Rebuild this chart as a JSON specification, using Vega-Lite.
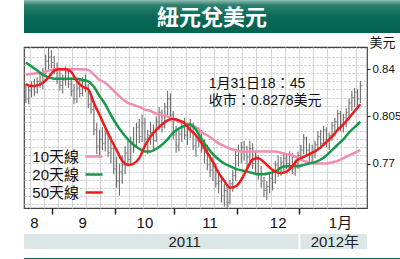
{
  "$schema": "https://vega.github.io/schema/vega-lite/v6.json",
  "padding": 0,
  "background": "white",
  "spacing": 2,
  "columns": 1,
  "align": "none",
  "config": {"font": "Liberation Sans Narrow, Liberation Sans, Noto Sans CJK TC", "view": {"stroke": null}},
  "datasets": {
    "bars": [
      {"date":"2011-08-18","high":0.829,"low":0.815,"close":0.818},
      {"date":"2011-08-19","high":0.827,"low":0.814,"close":0.824},
      {"date":"2011-08-22","high":0.831,"low":0.819,"close":0.827},
      {"date":"2011-08-23","high":0.833,"low":0.820,"close":0.823},
      {"date":"2011-08-24","high":0.834,"low":0.822,"close":0.831},
      {"date":"2011-08-25","high":0.838,"low":0.826,"close":0.829},
      {"date":"2011-08-26","high":0.841,"low":0.825,"close":0.838},
      {"date":"2011-08-29","high":0.851,"low":0.836,"close":0.846},
      {"date":"2011-08-30","high":0.856,"low":0.840,"close":0.849},
      {"date":"2011-08-31","high":0.854,"low":0.841,"close":0.845},
      {"date":"2011-09-01","high":0.850,"low":0.836,"close":0.839},
      {"date":"2011-09-02","high":0.845,"low":0.829,"close":0.833},
      {"date":"2011-09-05","high":0.839,"low":0.824,"close":0.828},
      {"date":"2011-09-06","high":0.836,"low":0.822,"close":0.832},
      {"date":"2011-09-07","high":0.842,"low":0.828,"close":0.838},
      {"date":"2011-09-08","high":0.840,"low":0.826,"close":0.829},
      {"date":"2011-09-09","high":0.834,"low":0.820,"close":0.824},
      {"date":"2011-09-12","high":0.829,"low":0.814,"close":0.818},
      {"date":"2011-09-13","high":0.830,"low":0.815,"close":0.826},
      {"date":"2011-09-14","high":0.833,"low":0.819,"close":0.822},
      {"date":"2011-09-15","high":0.834,"low":0.820,"close":0.831},
      {"date":"2011-09-16","high":0.836,"low":0.823,"close":0.827},
      {"date":"2011-09-19","high":0.829,"low":0.811,"close":0.814},
      {"date":"2011-09-20","high":0.822,"low":0.807,"close":0.810},
      {"date":"2011-09-21","high":0.815,"low":0.791,"close":0.795},
      {"date":"2011-09-22","high":0.800,"low":0.777,"close":0.783},
      {"date":"2011-09-23","high":0.795,"low":0.776,"close":0.788},
      {"date":"2011-09-26","high":0.797,"low":0.780,"close":0.785},
      {"date":"2011-09-27","high":0.796,"low":0.779,"close":0.792},
      {"date":"2011-09-28","high":0.794,"low":0.775,"close":0.778},
      {"date":"2011-09-29","high":0.790,"low":0.770,"close":0.781},
      {"date":"2011-09-30","high":0.786,"low":0.762,"close":0.766},
      {"date":"2011-10-03","high":0.775,"low":0.752,"close":0.757},
      {"date":"2011-10-04","high":0.770,"low":0.746,"close":0.764},
      {"date":"2011-10-05","high":0.776,"low":0.755,"close":0.769},
      {"date":"2011-10-06","high":0.783,"low":0.762,"close":0.778},
      {"date":"2011-10-07","high":0.787,"low":0.768,"close":0.773},
      {"date":"2011-10-10","high":0.790,"low":0.770,"close":0.786},
      {"date":"2011-10-11","high":0.797,"low":0.778,"close":0.783},
      {"date":"2011-10-12","high":0.800,"low":0.782,"close":0.797},
      {"date":"2011-10-13","high":0.803,"low":0.785,"close":0.790},
      {"date":"2011-10-14","high":0.806,"low":0.786,"close":0.800},
      {"date":"2011-10-17","high":0.804,"low":0.783,"close":0.788},
      {"date":"2011-10-18","high":0.795,"low":0.777,"close":0.791},
      {"date":"2011-10-19","high":0.801,"low":0.784,"close":0.793},
      {"date":"2011-10-20","high":0.799,"low":0.780,"close":0.787},
      {"date":"2011-10-21","high":0.805,"low":0.786,"close":0.801},
      {"date":"2011-10-24","high":0.812,"low":0.795,"close":0.808},
      {"date":"2011-10-25","high":0.810,"low":0.793,"close":0.797},
      {"date":"2011-10-26","high":0.815,"low":0.796,"close":0.812},
      {"date":"2011-10-27","high":0.824,"low":0.806,"close":0.818},
      {"date":"2011-10-28","high":0.822,"low":0.803,"close":0.806},
      {"date":"2011-10-31","high":0.809,"low":0.788,"close":0.791},
      {"date":"2011-11-01","high":0.798,"low":0.778,"close":0.783},
      {"date":"2011-11-02","high":0.795,"low":0.779,"close":0.792},
      {"date":"2011-11-03","high":0.802,"low":0.786,"close":0.798},
      {"date":"2011-11-04","high":0.804,"low":0.788,"close":0.791},
      {"date":"2011-11-07","high":0.800,"low":0.784,"close":0.795},
      {"date":"2011-11-08","high":0.803,"low":0.789,"close":0.797},
      {"date":"2011-11-09","high":0.800,"low":0.780,"close":0.783},
      {"date":"2011-11-10","high":0.792,"low":0.775,"close":0.787},
      {"date":"2011-11-11","high":0.797,"low":0.782,"close":0.794},
      {"date":"2011-11-14","high":0.795,"low":0.778,"close":0.781},
      {"date":"2011-11-15","high":0.788,"low":0.770,"close":0.778},
      {"date":"2011-11-16","high":0.784,"low":0.765,"close":0.769},
      {"date":"2011-11-17","high":0.776,"low":0.760,"close":0.765},
      {"date":"2011-11-18","high":0.775,"low":0.757,"close":0.768},
      {"date":"2011-11-21","high":0.770,"low":0.752,"close":0.755},
      {"date":"2011-11-22","high":0.765,"low":0.748,"close":0.757},
      {"date":"2011-11-23","high":0.760,"low":0.741,"close":0.746},
      {"date":"2011-11-24","high":0.755,"low":0.738,"close":0.750},
      {"date":"2011-11-25","high":0.754,"low":0.737,"close":0.741},
      {"date":"2011-11-28","high":0.758,"low":0.740,"close":0.755},
      {"date":"2011-11-29","high":0.765,"low":0.749,"close":0.761},
      {"date":"2011-11-30","high":0.780,"low":0.757,"close":0.776},
      {"date":"2011-12-01","high":0.784,"low":0.768,"close":0.779},
      {"date":"2011-12-02","high":0.786,"low":0.770,"close":0.782},
      {"date":"2011-12-05","high":0.787,"low":0.772,"close":0.779},
      {"date":"2011-12-06","high":0.783,"low":0.767,"close":0.775},
      {"date":"2011-12-07","high":0.787,"low":0.770,"close":0.781},
      {"date":"2011-12-08","high":0.785,"low":0.766,"close":0.770},
      {"date":"2011-12-09","high":0.779,"low":0.763,"close":0.775},
      {"date":"2011-12-12","high":0.776,"low":0.758,"close":0.762},
      {"date":"2011-12-13","high":0.768,"low":0.752,"close":0.757},
      {"date":"2011-12-14","high":0.760,"low":0.745,"close":0.750},
      {"date":"2011-12-15","high":0.757,"low":0.743,"close":0.753},
      {"date":"2011-12-16","high":0.763,"low":0.748,"close":0.759},
      {"date":"2011-12-19","high":0.765,"low":0.750,"close":0.756},
      {"date":"2011-12-20","high":0.772,"low":0.755,"close":0.769},
      {"date":"2011-12-21","high":0.776,"low":0.760,"close":0.767},
      {"date":"2011-12-22","high":0.775,"low":0.761,"close":0.771},
      {"date":"2011-12-23","high":0.778,"low":0.764,"close":0.774},
      {"date":"2011-12-26","high":0.777,"low":0.766,"close":0.770},
      {"date":"2011-12-27","high":0.779,"low":0.765,"close":0.776},
      {"date":"2011-12-28","high":0.778,"low":0.762,"close":0.766},
      {"date":"2011-12-29","high":0.773,"low":0.761,"close":0.769},
      {"date":"2011-12-30","high":0.779,"low":0.766,"close":0.776},
      {"date":"2012-01-02","high":0.784,"low":0.772,"close":0.780},
      {"date":"2012-01-03","high":0.792,"low":0.777,"close":0.789},
      {"date":"2012-01-04","high":0.790,"low":0.775,"close":0.780},
      {"date":"2012-01-05","high":0.785,"low":0.772,"close":0.776},
      {"date":"2012-01-06","high":0.784,"low":0.771,"close":0.778},
      {"date":"2012-01-09","high":0.787,"low":0.774,"close":0.784},
      {"date":"2012-01-10","high":0.794,"low":0.780,"close":0.790},
      {"date":"2012-01-11","high":0.795,"low":0.781,"close":0.785},
      {"date":"2012-01-12","high":0.798,"low":0.783,"close":0.795},
      {"date":"2012-01-13","high":0.797,"low":0.782,"close":0.787},
      {"date":"2012-01-16","high":0.793,"low":0.780,"close":0.791},
      {"date":"2012-01-17","high":0.801,"low":0.787,"close":0.798},
      {"date":"2012-01-18","high":0.804,"low":0.790,"close":0.801},
      {"date":"2012-01-19","high":0.810,"low":0.795,"close":0.807},
      {"date":"2012-01-20","high":0.809,"low":0.794,"close":0.799},
      {"date":"2012-01-23","high":0.807,"low":0.793,"close":0.804},
      {"date":"2012-01-24","high":0.811,"low":0.797,"close":0.808},
      {"date":"2012-01-25","high":0.818,"low":0.802,"close":0.815},
      {"date":"2012-01-26","high":0.824,"low":0.809,"close":0.819},
      {"date":"2012-01-27","high":0.826,"low":0.812,"close":0.823},
      {"date":"2012-01-30","high":0.825,"low":0.813,"close":0.818},
      {"date":"2012-01-31","high":0.831,"low":0.815,"close":0.8278}
    ],
    "ma": [
      {"date":"2011-08-18","10天線":0.836,"20天線":0.845,"50天線":0.829},
      {"date":"2011-08-22","10天線":0.8365,"20天線":0.842,"50天線":0.8275},
      {"date":"2011-08-24","10天線":0.837,"20天線":0.839,"50天線":0.828},
      {"date":"2011-08-26","10天線":0.8375,"20天線":0.836,"50天線":0.830},
      {"date":"2011-08-30","10天線":0.839,"20天線":0.834,"50天線":0.834},
      {"date":"2011-09-01","10天線":0.840,"20天線":0.833,"50天線":0.839},
      {"date":"2011-09-05","10天線":0.840,"20天線":0.833,"50天線":0.840},
      {"date":"2011-09-07","10天線":0.840,"20天線":0.833,"50天線":0.840},
      {"date":"2011-09-09","10天線":0.840,"20天線":0.833,"50天線":0.838},
      {"date":"2011-09-13","10天線":0.840,"20天線":0.833,"50天線":0.831},
      {"date":"2011-09-15","10天線":0.840,"20天線":0.832,"50天線":0.827},
      {"date":"2011-09-19","10天線":0.8395,"20天線":0.831,"50天線":0.825},
      {"date":"2011-09-21","10天線":0.836,"20天線":0.827,"50天線":0.815},
      {"date":"2011-09-23","10天線":0.832,"20天線":0.820,"50天線":0.806},
      {"date":"2011-09-27","10天線":0.830,"20天線":0.814,"50天線":0.797},
      {"date":"2011-09-29","10天線":0.826,"20天線":0.806,"50天線":0.788},
      {"date":"2011-10-03","10天線":0.822,"20天線":0.799,"50天線":0.780},
      {"date":"2011-10-05","10天線":0.818,"20天線":0.793,"50天線":0.772},
      {"date":"2011-10-07","10天線":0.815,"20天線":0.788,"50天線":0.769},
      {"date":"2011-10-11","10天線":0.8135,"20天線":0.784,"50天線":0.770},
      {"date":"2011-10-13","10天線":0.812,"20天線":0.781,"50天線":0.774},
      {"date":"2011-10-17","10天線":0.810,"20天線":0.779,"50天線":0.783},
      {"date":"2011-10-19","10天線":0.809,"20天線":0.779,"50天線":0.790},
      {"date":"2011-10-21","10天線":0.807,"20天線":0.781,"50天線":0.795},
      {"date":"2011-10-25","10天線":0.806,"20天線":0.784,"50天線":0.799},
      {"date":"2011-10-27","10天線":0.805,"20天線":0.788,"50天線":0.802},
      {"date":"2011-10-31","10天線":0.803,"20天線":0.793,"50天線":0.803},
      {"date":"2011-11-02","10天線":0.801,"20天線":0.796,"50天線":0.802},
      {"date":"2011-11-04","10天線":0.800,"20天線":0.798,"50天線":0.800},
      {"date":"2011-11-08","10天線":0.799,"20天線":0.799,"50天線":0.795},
      {"date":"2011-11-10","10天線":0.797,"20天線":0.795,"50天線":0.791},
      {"date":"2011-11-14","10天線":0.793,"20天線":0.788,"50天線":0.785},
      {"date":"2011-11-16","10天線":0.791,"20天線":0.782,"50天線":0.778},
      {"date":"2011-11-18","10天線":0.788,"20天線":0.777,"50天線":0.771},
      {"date":"2011-11-22","10天線":0.785,"20天線":0.773,"50天線":0.763},
      {"date":"2011-11-24","10天線":0.783,"20天線":0.770,"50天線":0.757},
      {"date":"2011-11-28","10天線":0.781,"20天線":0.768,"50天線":0.752},
      {"date":"2011-11-30","10天線":0.780,"20天線":0.766,"50天線":0.753},
      {"date":"2011-12-02","10天線":0.779,"20天線":0.765,"50天線":0.758},
      {"date":"2011-12-06","10天線":0.779,"20天線":0.764,"50天線":0.766},
      {"date":"2011-12-08","10天線":0.779,"20天線":0.763,"50天線":0.773},
      {"date":"2011-12-12","10天線":0.779,"20天線":0.762,"50天線":0.774},
      {"date":"2011-12-14","10天線":0.779,"20天線":0.762,"50天線":0.771},
      {"date":"2011-12-16","10天線":0.779,"20天線":0.763,"50天線":0.767},
      {"date":"2011-12-20","10天線":0.779,"20天線":0.764,"50天線":0.764},
      {"date":"2011-12-22","10天線":0.778,"20天線":0.767,"50天線":0.763},
      {"date":"2011-12-26","10天線":0.777,"20天線":0.768,"50天線":0.764},
      {"date":"2011-12-28","10天線":0.776,"20天線":0.768,"50天線":0.768},
      {"date":"2011-12-30","10天線":0.774,"20天線":0.768,"50天線":0.773},
      {"date":"2012-01-03","10天線":0.772,"20天線":0.769,"50天線":0.775},
      {"date":"2012-01-05","10天線":0.771,"20天線":0.770,"50天線":0.777},
      {"date":"2012-01-09","10天線":0.770,"20天線":0.771,"50天線":0.779},
      {"date":"2012-01-11","10天線":0.770,"20天線":0.773,"50天線":0.782},
      {"date":"2012-01-13","10天線":0.770,"20天線":0.776,"50天線":0.786},
      {"date":"2012-01-17","10天線":0.771,"20天線":0.780,"50天線":0.790},
      {"date":"2012-01-19","10天線":0.772,"20天線":0.784,"50天線":0.795},
      {"date":"2012-01-23","10天線":0.774,"20天線":0.788,"50天線":0.799},
      {"date":"2012-01-25","10天線":0.776,"20天線":0.793,"50天線":0.804},
      {"date":"2012-01-27","10天線":0.778,"20天線":0.797,"50天線":0.809},
      {"date":"2012-01-31","10天線":0.780,"20天線":0.801,"50天線":0.814}
    ]
  },
  "concat": [
    {
      "width": 400,
      "height": 33,
      "view": {"stroke": null, "fill": {"gradient": "linear", "x1": 0, "y1": 0, "x2": 0, "y2": 1, "stops": [{"offset": 0, "color": "#8fbfb3"}, {"offset": 0.15, "color": "#2d7f6d"}, {"offset": 0.5, "color": "#0b6a58"}, {"offset": 1, "color": "#00614f"}]}},
      "data": {"values": [{"t": "紐元兌美元"}]},
      "mark": {"type": "text", "font": "Noto Sans CJK TC", "fontWeight": "bold", "fontSize": 22, "color": "white", "baseline": "middle", "dy": 1.5},
      "encoding": {
        "x": {"datum": 0.47, "type": "quantitative", "scale": {"domain": [0, 1]}, "axis": null},
        "text": {"field": "t"}
      }
    },
    {
      "width": 343,
      "height": 161,
      "view": {"stroke": "#444", "strokeWidth": 1.2, "fill": "white"},
      "resolve": {"axis": {"x": "independent", "y": "independent"}},
      "layer": [
        {
          "data": {"name": "bars"},
          "mark": {"type": "rule", "color": "#6a6a6a", "strokeWidth": 1.1},
          "encoding": {
            "x": {"field": "date", "type": "ordinal",
              "scale": {"type": "band", "paddingInner": 0, "paddingOuter": 1.25, "align": 0.08},
              "axis": {"orient": "bottom", "title": null, "values": ["2011-08-22","2011-08-29","2011-09-05","2011-09-12","2011-09-19","2011-09-26","2011-10-03","2011-10-10","2011-10-17","2011-10-24","2011-10-31","2011-11-07","2011-11-14","2011-11-21","2011-11-28","2011-12-05","2011-12-12","2011-12-19","2011-12-26","2012-01-02","2012-01-09","2012-01-16","2012-01-23","2012-01-30"], "bandPosition": 0, "labels": false, "ticks": false, "domain": false, "grid": true, "gridColor": "#d4d4d4", "gridWidth": 1}},
            "y": {"field": "low", "type": "quantitative",
              "scale": {"domain": [0.737, 0.8565], "zero": false, "nice": false},
              "axis": {"orient": "left", "title": null, "values": [0.8555,0.8494,0.8433,0.8372,0.8311,0.825,0.8189,0.8128,0.8067,0.8006,0.7945,0.7884,0.7823,0.7762,0.7701,0.764,0.7579,0.7518,0.7457,0.7396], "labels": false, "ticks": false, "domain": false, "grid": true, "gridColor": "#c4c4c4", "gridDash": [2, 2], "minExtent": 23, "maxExtent": 23}},
            "y2": {"field": "high"}
          }
        },
        {
          "data": {"name": "bars"},
          "mark": {"type": "tick", "color": "#6a6a6a", "size": 2, "thickness": 1, "xOffset": 1.2},
          "encoding": {
            "x": {"field": "date", "type": "ordinal", "axis": null},
            "y": {"field": "close", "type": "quantitative", "axis": null}
          }
        },
        {
          "data": {"name": "ma"},
          "transform": [{"fold": ["10天線", "20天線", "50天線"], "as": ["series", "value"]}],
          "mark": {"type": "line", "strokeWidth": 2.5, "interpolate": "monotone"},
          "encoding": {
            "x": {"field": "date", "type": "ordinal",
              "axis": {"orient": "bottom", "title": null, "values": ["2011-08-23","2011-09-15","2011-10-17","2011-11-17","2011-12-21","2012-01-20"], "labelExpr": "datum.value=='2011-08-23'?'8':datum.value=='2011-09-15'?'9':datum.value=='2011-10-17'?'10':datum.value=='2011-11-17'?'11':datum.value=='2011-12-21'?'12':'1月'", "ticks": false, "domain": false, "grid": false, "labelAngle": 0, "labelAlign": "center", "labelBaseline": "top", "labelPadding": 7, "labelFontSize": 15, "labelColor": "#111", "labelOverlap": false}},
            "y": {"field": "value", "type": "quantitative",
              "axis": {"orient": "right", "values": [0.77, 0.805, 0.84], "format": ".3~f", "grid": false, "domain": false, "tickSize": 3, "tickColor": "#222", "labelPadding": 2, "labelFontSize": 11.5, "labelColor": "#111", "title": "美元", "titleAngle": 0, "titleFontSize": 13, "titleFontWeight": "normal", "titleX": 15, "titleY": 2, "titleAlign": "center", "titleBaseline": "bottom", "titleColor": "#111", "titleFont": "Noto Sans CJK TC"}},
            "color": {"field": "series", "type": "nominal",
              "scale": {"domain": ["10天線", "20天線", "50天線"], "range": ["#f48cb0", "#17994a", "#ee1c1c"]},
              "legend": {"orient": "none", "legendX": 60, "legendY": 146.5, "title": null, "symbolType": "stroke", "symbolSize": 289, "symbolStrokeWidth": 2.5, "labelFontSize": 15, "labelOffset": -25, "labelAlign": "right", "rowPadding": 0, "padding": 0, "labelColor": "#111"}}
          }
        },
        {
          "data": {"values": [{}]},
          "mark": {"type": "text", "align": "left", "baseline": "middle", "fontSize": 14, "lineHeight": 17, "color": "#111"},
          "encoding": {
            "x": {"datum": "2011-11-17", "type": "ordinal", "bandPosition": 0,
              "axis": {"orient": "bottom", "title": null, "values": ["2011-09-01","2011-10-03","2011-11-01","2011-12-01","2012-01-02"], "bandPosition": 0, "labels": false, "domain": false, "grid": false, "ticks": true, "tickSize": 6, "tickWidth": 1.5, "tickColor": "#222"}},
            "y": {"datum": 0.8292, "type": "quantitative", "axis": null},
            "text": {"value": ["1月31日18：45", "收市：0.8278美元"]}
          }
        }
      ]
    },
    {
      "width": 343,
      "height": 15,
      "view": {"stroke": null, "fill": "#dce6e6"},
      "layer": [
        {
          "data": {"name": "bars"},
          "mark": {"type": "rule", "opacity": 0},
          "encoding": {
            "x": {"field": "date", "type": "ordinal",
              "scale": {"type": "band", "paddingInner": 0, "paddingOuter": 1.25, "align": 0.08},
              "axis": {"orient": "bottom", "title": null, "labels": false, "ticks": false, "domain": false, "grid": false, "minExtent": 4, "maxExtent": 4}}
          }
        },
        {
          "data": {"values": [{}]},
          "mark": {"type": "rule", "color": "white", "strokeWidth": 2},
          "encoding": {
            "x": {"datum": "2012-01-02", "type": "ordinal", "bandPosition": 0}
          }
        },
        {
          "data": {"values": [{}]},
          "mark": {"type": "text", "fontSize": 15, "color": "#222", "baseline": "middle"},
          "encoding": {
            "x": {"datum": "2011-11-04", "type": "ordinal"},
            "y": {"datum": 0.5, "type": "quantitative", "scale": {"domain": [0, 1]},
              "axis": {"orient": "left", "title": null, "labels": false, "ticks": false, "domain": false, "grid": false, "minExtent": 23, "maxExtent": 23}},
            "text": {"value": "2011"}
          }
        },
        {
          "data": {"values": [{}]},
          "mark": {"type": "text", "fontSize": 15, "color": "#222", "baseline": "middle"},
          "encoding": {
            "x": {"datum": "2012-01-18", "type": "ordinal"},
            "y": {"datum": 0.5, "type": "quantitative"},
            "text": {"value": "2012年"}
          }
        }
      ]
    },
    {
      "width": 400,
      "height": 6,
      "view": {"stroke": null, "fill": "#05614f"},
      "data": {"values": [{}]},
      "mark": {"type": "text", "text": ""},
      "encoding": {}
    }
  ]
}
